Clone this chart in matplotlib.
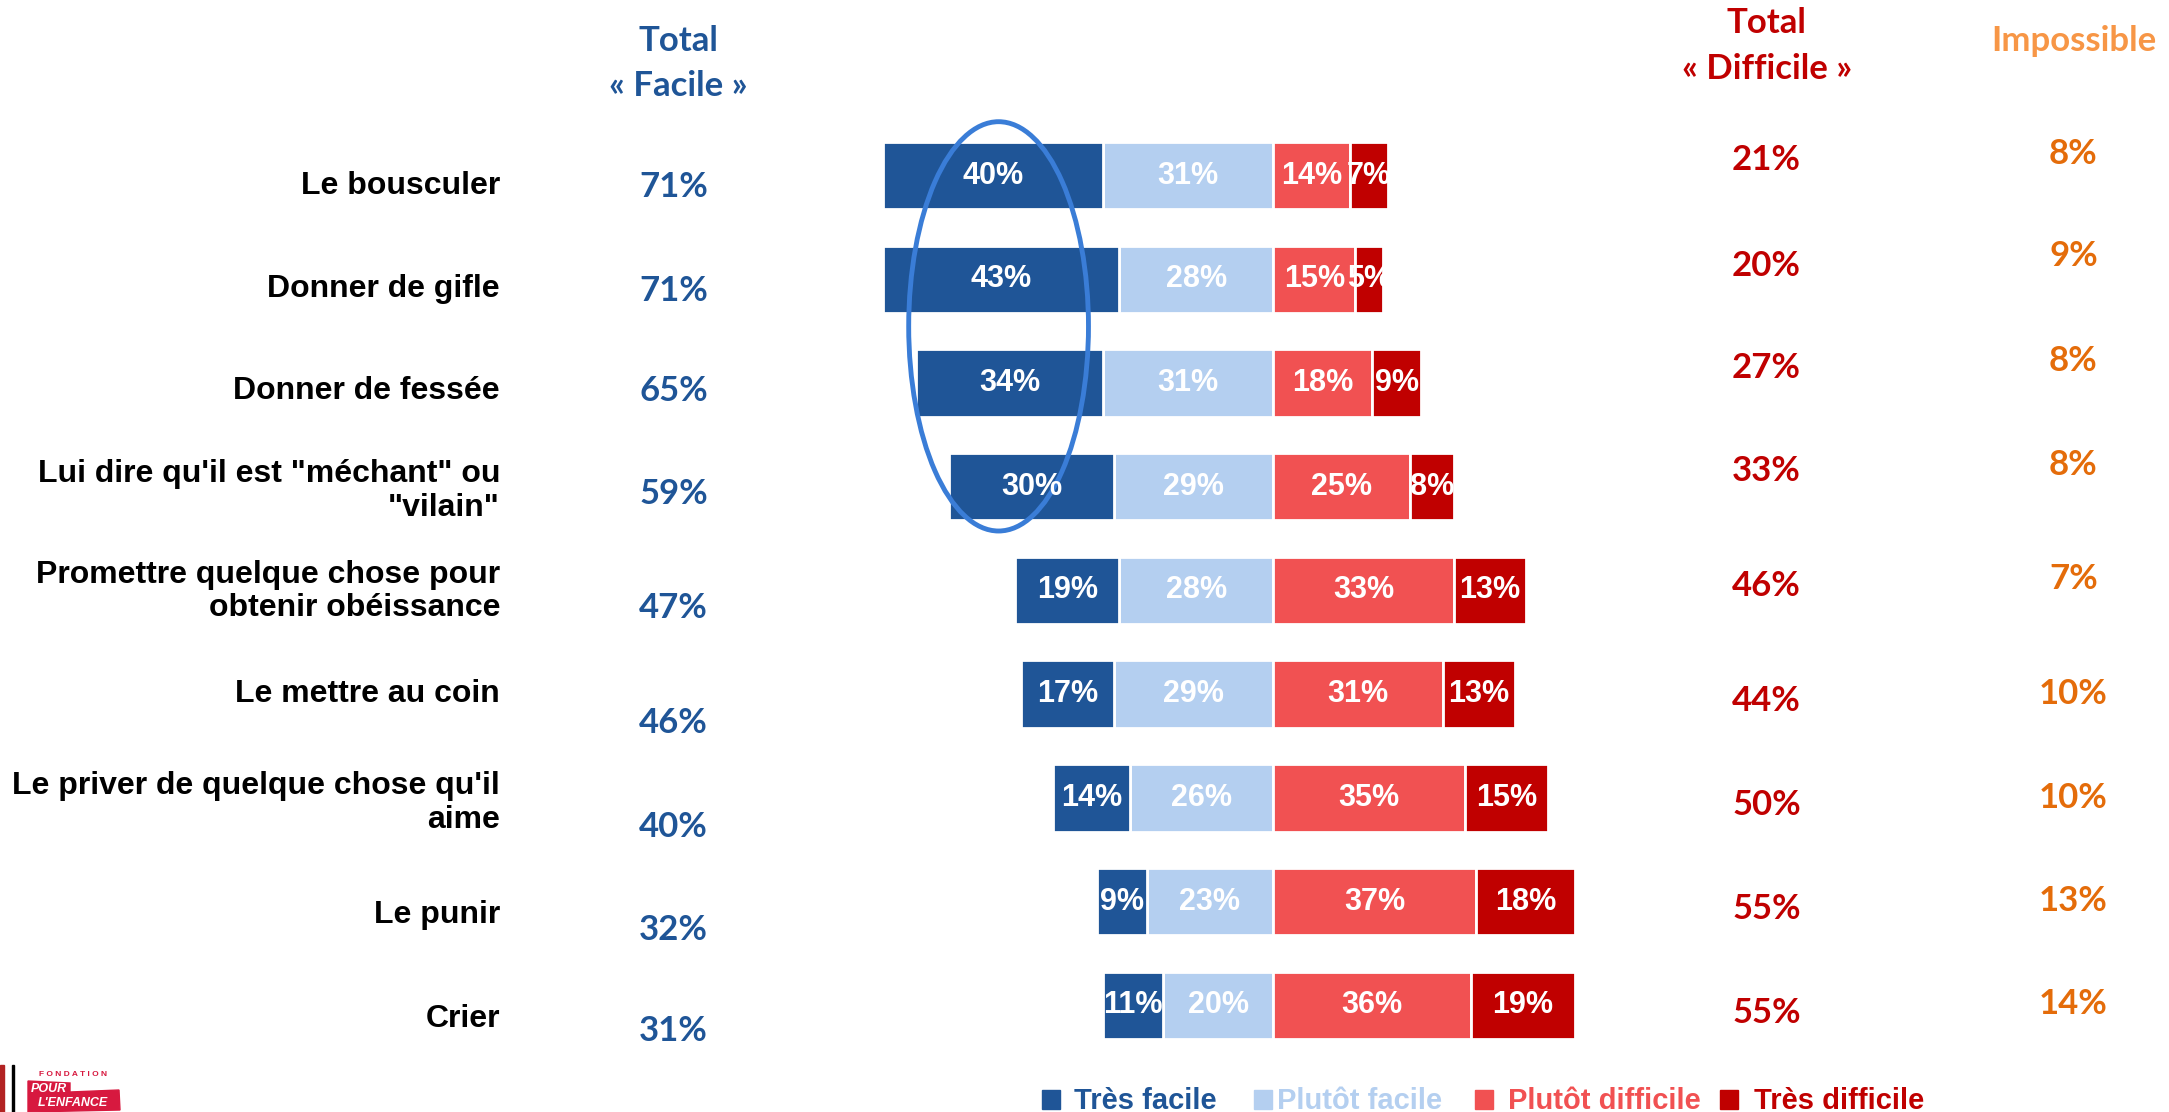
import matplotlib.pyplot as plt
from matplotlib.patches import Ellipse, Polygon

# --- data ---
categories = [
    "Le bousculer",
    "Donner de gifle",
    "Donner de fessée",
    "Lui dire qu'il est \"méchant\" ou\n\"vilain\"",
    "Promettre quelque chose pour\nobtenir obéissance",
    "Le mettre au coin",
    "Le priver de quelque chose qu'il\naime",
    "Le punir",
    "Crier",
]
tres_facile = [40, 43, 34, 30, 19, 17, 14, 9, 11]
plutot_facile = [31, 28, 31, 29, 28, 29, 26, 23, 20]
plutot_difficile = [14, 15, 18, 25, 33, 31, 35, 37, 36]
tres_difficile = [7, 5, 9, 8, 13, 13, 15, 18, 19]
total_facile = [71, 71, 65, 59, 47, 46, 40, 32, 31]
total_difficile = [21, 20, 27, 33, 46, 44, 50, 55, 55]
impossible = [8, 9, 8, 8, 7, 10, 10, 13, 14]

legend_labels = ["Très facile", "Plutôt facile", "Plutôt difficile", "Très difficile"]

# --- styles ---
c_tf = "#1F5597"
c_pf = "#B4CFF0"
c_pd = "#F15152"
c_td = "#C00000"
c_imp = "#E46C0A"
c_imp_head = "#F79646"
c_ellipse = "#3A7DD7"
c_logo = "#D7193F"

# vertical nudges of the text columns (in rows)
off_label = [0.10, 0.09, 0.08, 0.04, 0.01, 0.0, 0.05, 0.13, 0.13]
off_tfac = [0.11, 0.11, 0.08, 0.07, 0.17, 0.28, 0.28, 0.27, 0.25]
off_tdif = [-0.15, -0.13, -0.15, -0.15, -0.04, 0.07, 0.07, 0.07, 0.07]
off_imp = [-0.21, -0.23, -0.21, -0.21, -0.11, 0.0, 0.0, -0.01, -0.01]

bar_font = ["Liberation Sans", "DejaVu Sans"]
cal_font = ["Lato", "DejaVu Sans"]

W, H = 2169, 1112
fig = plt.figure(figsize=(W / 100, H / 100), dpi=100)
ax = fig.add_axes([0, 0, 1, 1])
ax.set_xlim(-231.9, 163.2)
ax.set_ylim(9.029, -1.694)
ax.axis("off")

y = list(range(len(categories)))

# facile part goes left of 0, difficile part right of 0
left_pf = [-v for v in plutot_facile]
left_tf = [-(a + b) for a, b in zip(tres_facile, plutot_facile)]
ax.barh(y, plutot_facile, left=left_pf, height=0.65, color=c_pf, edgecolor="white", linewidth=2)
ax.barh(y, tres_facile, left=left_tf, height=0.65, color=c_tf, edgecolor="white", linewidth=2)
ax.barh(y, plutot_difficile, left=0, height=0.65, color=c_pd, edgecolor="white", linewidth=2)
ax.barh(y, tres_difficile, left=plutot_difficile, height=0.65, color=c_td, edgecolor="white", linewidth=2)

for i in y:
    segs = [
        (left_tf[i], tres_facile[i]),
        (left_pf[i], plutot_facile[i]),
        (0, plutot_difficile[i]),
        (plutot_difficile[i], tres_difficile[i]),
    ]
    for start, w in segs:
        ax.text(start + w / 2, i, f"{w}%", ha="center", va="center", color="white",
                fontsize=22, fontweight="bold", family=bar_font)

    ax.text(-140.8, i + off_label[i], categories[i], ha="right", va="center", color="black",
            fontsize=23, fontweight="bold", family=bar_font, linespacing=1.17)
    ax.text(-109.2, i + off_tfac[i], f"{total_facile[i]}%", ha="center", va="center",
            color=c_tf, fontsize=25, fontweight="bold", family=cal_font)
    ax.text(89.9, i + off_tdif[i], f"{total_difficile[i]}%", ha="center", va="center",
            color=c_td, fontsize=25, fontweight="bold", family=cal_font)
    ax.text(145.8, i + off_imp[i], f"{impossible[i]}%", ha="center", va="center",
            color=c_imp, fontsize=25, fontweight="bold", family=cal_font)

# column headers
ax.text(-108.3, -1.294, "Total", ha="center", va="center", color=c_tf, fontsize=25,
        fontweight="bold", family=cal_font)
ax.text(-108.3, -0.867, "« Facile »", ha="center", va="center", color=c_tf, fontsize=25,
        fontweight="bold", family=cal_font)
ax.text(89.9, -1.468, "Total", ha="center", va="center", color=c_td, fontsize=25,
        fontweight="bold", family=cal_font)
ax.text(89.9, -1.027, "« Difficile »", ha="center", va="center", color=c_td, fontsize=25,
        fontweight="bold", family=cal_font)
ax.text(145.8, -1.294, "Impossible", ha="center", va="center", color=c_imp_head, fontsize=25,
        fontweight="bold", family=cal_font)

# highlight ellipse
ax.add_patch(Ellipse((-50.0, 1.453), width=32.75, height=3.947, fill=False,
                     edgecolor=c_ellipse, linewidth=3.5))

# legend (positions in full-size pixels)
leg_colors = [c_tf, c_pf, c_pd, c_td]
leg_sq_x = [1051, 1263, 1484, 1729]
leg_tx_x = [1074, 1277, 1508, 1754]
for lab, col, sx, tx in zip(legend_labels, leg_colors, leg_sq_x, leg_tx_x):
    fig.patches.append(plt.Rectangle(((sx - 9) / W, 1 - 1109 / H), 18 / W, 19 / H,
                                     transform=fig.transFigure, color=col))
    fig.text(tx / W, 1 - 1109 / H, lab, ha="left", va="baseline",
             color=col, fontsize=21, fontweight="bold", family=bar_font)

# logo
fig.patches.append(plt.Rectangle((0, 0), 4 / W, 47 / H, transform=fig.transFigure,
                                 color="#B22222", zorder=5))
fig.patches.append(plt.Rectangle((12 / W, 0), 1.5 / W, 47 / H, transform=fig.transFigure,
                                 color="black", zorder=5))
fig.text(73 / W, 1 - 1074 / H, "F O N D A T I O N", ha="center", va="center", color=c_logo,
         fontsize=6, fontweight="bold", family=bar_font)
fig.patches.append(Polygon([(28 / W, 1 - 1112 / H), (120 / W, 1 - 1110 / H),
                            (119 / W, 1 - 1090 / H), (70 / W, 1 - 1092 / H),
                            (70 / W, 1 - 1083 / H), (28 / W, 1 - 1081 / H)],
                           closed=True, transform=fig.transFigure, color=c_logo, zorder=5))
fig.text(31 / W, 1 - 1089 / H, "POUR", ha="left", va="center", color="white",
         fontsize=9, fontweight="bold", style="italic", family=bar_font, zorder=6)
fig.text(38 / W, 1 - 1103 / H, "L'ENFANCE", ha="left", va="center", color="white",
         fontsize=9, fontweight="bold", style="italic", family=bar_font, zorder=6)

fig.savefig("out.png", dpi=100)
